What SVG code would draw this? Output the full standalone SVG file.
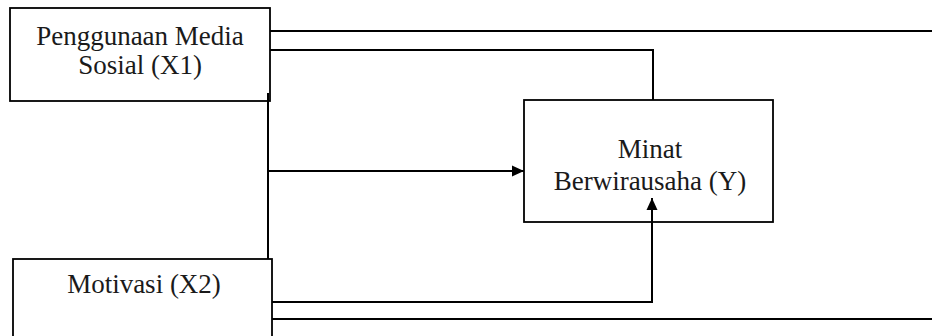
<svg xmlns="http://www.w3.org/2000/svg" width="932" height="336" viewBox="0 0 932 336">
  <style>
    .box { stroke: #000000; stroke-width: 1.8; }
    .lbl { font-family: 'Liberation Serif', 'Times New Roman', Times, serif; font-size: 27px; fill: #1a1a1a; text-anchor: middle; }
    .wire { fill: none; stroke: #000000; stroke-width: 2; }
  </style>
  <defs>
    <marker id="head" viewBox="0 0 12 12" refX="12" refY="6" markerWidth="12" markerHeight="12" markerUnits="userSpaceOnUse" orient="auto">
      <path d="M0,0.5 L12,6 L0,11.5 Z" fill="#000000"/>
    </marker>
  </defs>

  <g id="x1">
    <rect class="box" x="10" y="8" width="260" height="93" fill="#ffffff"/>
    <text class="lbl" x="140" y="45">Penggunaan Media</text>
    <text class="lbl" x="140" y="74">Sosial (X1)</text>
  </g>

  <g id="y">
    <rect class="box" x="524" y="100" width="249" height="122" fill="none"/>
    <text class="lbl" x="650" y="158">Minat</text>
    <text class="lbl" x="650" y="190">Berwirausaha (Y)</text>
  </g>

  <g id="x2">
    <rect class="box" x="13" y="259" width="259" height="90" fill="#ffffff"/>
    <text class="lbl" x="144" y="293">Motivasi (X2)</text>
  </g>

  <g id="connectors">
    <path class="wire" d="M270,31 H932"/>
    <path class="wire" d="M270,50 H653 V100"/>
    <path class="wire" d="M268,93 V259"/>
    <path class="wire" d="M268,171 H524" marker-end="url(#head)"/>
    <path class="wire" d="M272,302 H652 V198" marker-end="url(#head)"/>
    <path class="wire" d="M272,319 H932"/>
  </g>
</svg>
